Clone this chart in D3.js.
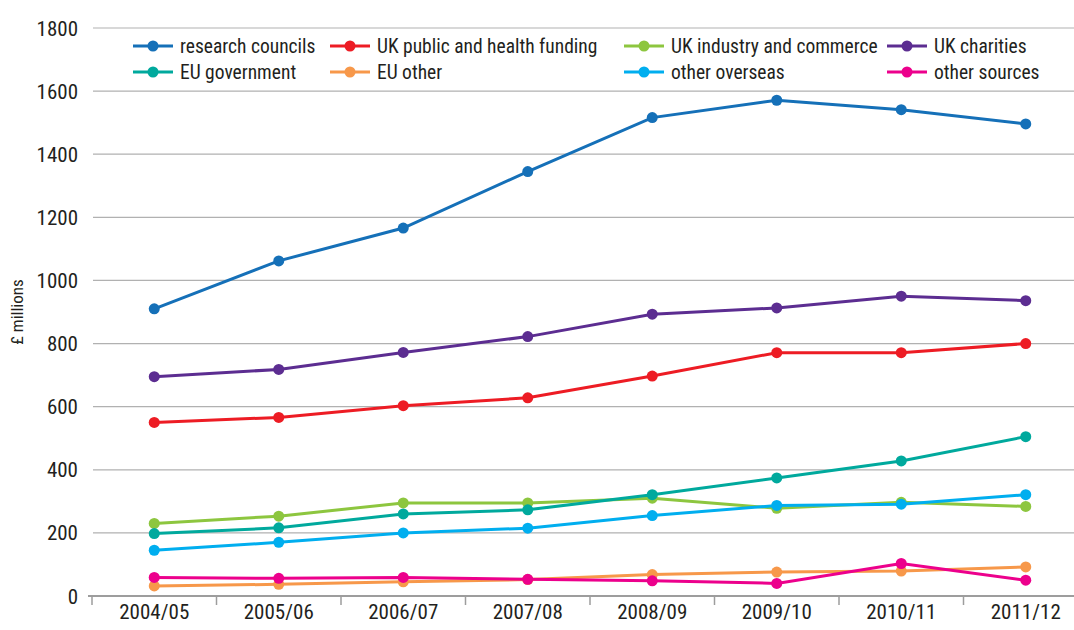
<!DOCTYPE html>
<html>
<head>
<meta charset="utf-8">
<script src="https://cdn.jsdelivr.net/npm/d3@7"></script>
<style>
  body { margin: 0; background: #fff; }
  svg text { font-family: "Liberation Sans Narrow", "Roboto Condensed", "Liberation Sans", sans-serif; fill: #231f20; }
</style>
</head>
<body>
<svg id="chart" width="1074" height="630"></svg>
<script>
// years on the x axis
var years = ["2004/05","2005/06","2006/07","2007/08","2008/09","2009/10","2010/11","2011/12"];
var yTicks = [0,200,400,600,800,1000,1200,1400,1600,1800];

// values in £ millions
var researchCouncils = [910,1062,1166,1345,1516,1571,1541,1496];
var ukPublicHealth   = [550,566,603,628,697,771,771,800];
var ukIndustry       = [230,253,295,295,310,278,297,284];
var ukCharities      = [695,718,772,822,893,913,950,936];
var euGovernment     = [198,216,260,273,321,374,428,505];
var euOther          = [32,37,45,52,68,76,79,92];
var otherOverseas    = [145,170,200,215,255,287,291,321];
var otherSources     = [59,56,59,53,48,40,103,50];

var seriesNames  = ["research councils","UK public and health funding","UK industry and commerce","UK charities",
                    "EU government","EU other","other overseas","other sources"];
var seriesColors = ["#1570b8","#ed1c24","#8dc63f","#5c2d91","#00a99d","#f7984a","#00aeef","#ec008c"];
var seriesValues = [researchCouncils,ukPublicHealth,ukIndustry,ukCharities,euGovernment,euOther,otherOverseas,otherSources];

var series = seriesNames.map(function(n,i){ return {name:n, color:seriesColors[i], values:seriesValues[i]}; });

var svg = d3.select("#chart");
var mLeft = 92, mRight = 1088, mTop = 28, mBottom = 596;

var x = d3.scaleBand().domain(years).range([mLeft,mRight]);
var y = d3.scaleLinear().domain([0,1800]).range([mBottom,mTop]);

// gridlines
svg.append("g")
  .selectAll("line")
  .data(yTicks.filter(function(d){ return d>0; }))
  .enter().append("line")
  .attr("x1", mLeft+1).attr("x2", 1074)
  .attr("y1", function(d){ return y(d); }).attr("y2", function(d){ return y(d); })
  .attr("stroke", "#b1b1b1").attr("stroke-width", 1.2);

// y labels
svg.append("g")
  .selectAll("text")
  .data(yTicks)
  .enter().append("text")
  .attr("x", 78).attr("y", function(d){ return y(d); })
  .attr("dy", "0.36em")
  .attr("text-anchor", "end")
  .style("font-size", "21px")
  .text(function(d){ return d; });

svg.append("text")
  .attr("transform", "translate(23," + ((mTop+mBottom)/2) + ") rotate(-90)")
  .attr("text-anchor", "middle")
  .style("font-size", "17px")
  .text("£ millions");

// x axis
var xAxis = svg.append("g");
xAxis.append("line")
  .attr("x1", mLeft-4).attr("x2", 1074)
  .attr("y1", mBottom).attr("y2", mBottom)
  .attr("stroke", "#9d9d9d").attr("stroke-width", 2);
xAxis.selectAll(".tk")
  .data(years.concat(["end"]))
  .enter().append("line")
  .attr("x1", function(d,i){ return mLeft + i*x.step(); })
  .attr("x2", function(d,i){ return mLeft + i*x.step(); })
  .attr("y1", mBottom).attr("y2", mBottom+9)
  .attr("stroke", "#9d9d9d").attr("stroke-width", 1.5);
xAxis.selectAll(".lbl")
  .data(years)
  .enter().append("text")
  .attr("x", function(d){ return x(d)+x.bandwidth()/2; })
  .attr("y", 619)
  .attr("text-anchor", "middle")
  .style("font-size", "21px")
  .text(function(d){ return d; });

// lines
var line = d3.line()
  .x(function(d,i){ return x(years[i])+x.bandwidth()/2; })
  .y(function(d){ return y(d); });

var sg = svg.append("g").selectAll("g").data(series).enter().append("g");
sg.append("path")
  .attr("d", function(d){ return line(d.values); })
  .attr("fill", "none")
  .attr("stroke", function(d){ return d.color; })
  .attr("stroke-width", 3);
sg.selectAll("circle")
  .data(function(d){ return d.values.map(function(v,i){ return {v:v,i:i,color:d.color}; }); })
  .enter().append("circle")
  .attr("cx", function(d){ return x(years[d.i])+x.bandwidth()/2; })
  .attr("cy", function(d){ return y(d.v); })
  .attr("r", 5.5)
  .attr("fill", function(d){ return d.color; });

// legend
var legX = [133,330,624,887], legY = [46,72];
var leg = svg.append("g").selectAll("g").data(series).enter().append("g")
  .attr("transform", function(d,i){ return "translate(" + legX[i%4] + "," + legY[Math.floor(i/4)] + ")"; });
leg.append("line")
  .attr("x1", 0).attr("x2", 40).attr("y1", 0).attr("y2", 0)
  .attr("stroke", function(d){ return d.color; }).attr("stroke-width", 3);
leg.append("circle")
  .attr("cx", 20).attr("cy", 0).attr("r", 5.5)
  .attr("fill", function(d){ return d.color; });
leg.append("text")
  .attr("x", 47).attr("dy", "0.36em")
  .style("font-size", "19.5px")
  .text(function(d){ return d.name; });
</script>
</body>
</html>
